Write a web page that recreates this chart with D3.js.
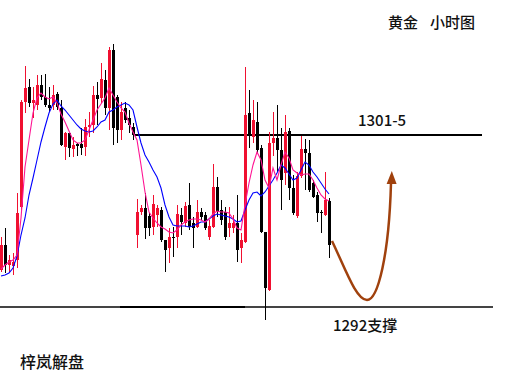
<!DOCTYPE html>
<meta charset="utf-8">
<style>
  body { margin: 0; background: #fff; }
  text { font-family: "Noto Sans CJK SC", "Noto Sans", sans-serif; fill: #111; font-weight: 500; }
</style>
<body>
<div id="chart"></div>
<script src="https://d3js.org/d3.v7.min.js"></script>
<script>
// gold, 1h bars (price values)
var open = [1294.25,1295.50,1294.50,1294.45,1294.75,1297.40,1302.65,1303.40,1302.60,1302.50,
  1303.50,1302.90,1302.50,1302.50,1303.05,1302.35,1300.40,1301.10,1300.30,1300.55,
  1300.55,1300.40,1301.40,1301.50,1303.00,1302.85,1303.75,1302.35,1305.25,1302.90,
  1301.25,1302.35,1301.85,1301.40,1296.00,1297.15,1297.35,1296.95,1296.40,1297.00,
  1297.25,1295.75,1295.35,1295.90,1295.90,1297.00,1296.60,1297.50,1296.60,1296.40,
  1297.15,1297.00,1295.90,1296.40,1298.40,1297.25,1297.15,1296.35,1296.35,1296.60,
  1295.35,1295.65,1302.10,1300.90,1301.65,1300.35,1296.15,1293.25,1300.60,1300.85,
  1300.25,1299.10,1301.20,1298.35,1296.95,1298.95,1300.30,1300.10,1298.60,1298.00,
  1297.15,1297.00,1297.70];
var high = [1295.90,1296.35,1295.00,1295.10,1298.10,1302.75,1304.45,1303.80,1303.40,1304.00,
  1304.00,1304.05,1303.40,1303.50,1303.15,1302.75,1301.15,1301.10,1300.90,1300.60,
  1301.35,1301.80,1302.15,1303.45,1303.65,1304.60,1304.25,1305.40,1305.55,1303.00,
  1302.65,1302.65,1302.25,1301.60,1297.80,1297.50,1298.10,1297.10,1298.00,1297.50,
  1297.40,1295.75,1296.35,1296.40,1297.50,1297.35,1297.65,1298.60,1296.90,1297.75,
  1297.35,1297.15,1296.75,1299.55,1298.90,1297.75,1297.40,1297.40,1297.00,1298.00,
  1296.10,1304.40,1303.25,1302.75,1302.65,1300.50,1296.15,1301.15,1302.15,1302.50,
  1301.35,1302.00,1301.35,1299.00,1299.15,1300.95,1300.80,1300.75,1298.75,1298.15,
  1297.25,1299.15,1297.85];
var low = [1294.15,1294.10,1294.15,1294.00,1294.35,1297.25,1302.10,1302.40,1301.85,1302.25,
  1302.75,1302.40,1302.15,1302.25,1302.25,1300.45,1299.75,1299.90,1299.90,1299.95,
  1300.00,1299.95,1300.90,1301.10,1301.50,1302.60,1302.00,1301.25,1300.50,1300.60,
  1300.75,1301.60,1301.10,1300.75,1295.35,1297.00,1295.80,1295.95,1296.00,1296.40,
  1295.65,1294.15,1294.60,1294.90,1295.35,1296.00,1296.40,1296.25,1295.35,1296.35,
  1296.75,1296.25,1295.75,1296.35,1296.90,1296.50,1295.75,1295.90,1296.10,1294.65,
  1294.60,1295.60,1300.35,1300.60,1300.10,1296.10,1291.75,1293.20,1299.95,1299.15,
  1297.25,1298.50,1297.75,1297.00,1296.85,1298.85,1298.25,1298.15,1297.85,1296.65,
  1296.10,1296.95,1294.85];
var close = [1295.50,1294.50,1294.75,1294.65,1297.10,1302.65,1303.35,1302.60,1302.75,1303.50,
  1302.90,1302.50,1302.35,1303.00,1302.40,1300.50,1301.10,1300.35,1300.50,1300.45,
  1300.35,1301.40,1301.50,1303.00,1302.80,1303.80,1302.35,1305.25,1301.35,1301.25,
  1302.15,1301.75,1301.50,1301.00,1297.15,1297.35,1296.35,1296.35,1297.55,1297.35,
  1295.75,1295.25,1295.90,1295.85,1297.05,1296.65,1297.45,1296.40,1296.35,1297.15,
  1296.90,1296.35,1296.45,1298.40,1297.15,1296.75,1295.90,1296.60,1296.60,1295.25,
  1295.75,1302.00,1301.00,1301.75,1300.25,1296.15,1293.35,1300.60,1300.85,1300.25,
  1298.75,1301.15,1298.35,1297.10,1298.95,1300.30,1300.10,1298.25,1297.90,1297.10,
  1297.10,1297.75,1295.50];

// moving averages as drawn
var maSlow = [1293.95,1294.00,1294.10,1294.35,1294.95,1296.00,1296.85,1298.00,1298.85,1299.75,
  1300.65,1301.40,1302.10,1302.55,1302.75,1302.45,1302.25,1302.00,1301.75,1301.50,
  1301.30,1301.20,1301.15,1301.20,1301.40,1301.65,1301.75,1302.15,1302.25,1302.40,
  1302.50,1302.60,1302.50,1302.25,1301.40,1300.60,1300.00,1299.65,1299.25,1298.90,
  1298.35,1297.50,1296.90,1296.50,1296.45,1296.45,1296.45,1296.40,1296.45,1296.55,
  1296.65,1296.65,1296.80,1296.95,1297.05,1297.00,1296.95,1296.90,1296.80,1296.65,
  1296.70,1297.25,1297.75,1298.10,1298.15,1297.95,1298.15,1298.45,1298.75,1299.10,
  1299.50,1299.35,1299.05,1298.75,1298.85,1299.25,1299.65,1299.50,1299.15,1298.90,
  1298.60,1298.30,1298.05];
var maFast = [1294.30,1294.50,1294.65,1294.75,1295.00,1296.85,1299.40,1300.75,1302.10,1302.85,
  1303.10,1302.90,1302.80,1302.90,1302.60,1302.05,1301.65,1301.20,1300.75,1300.60,
  1300.60,1300.75,1301.25,1301.75,1302.25,1302.55,1302.85,1303.35,1303.00,1302.65,
  1302.35,1302.15,1301.60,1301.15,1300.75,1299.50,1298.15,1297.15,1296.85,1296.60,
  1296.40,1296.30,1296.15,1296.10,1296.25,1296.50,1296.65,1296.75,1296.80,1296.80,
  1296.75,1296.65,1296.80,1297.05,1297.20,1297.15,1297.15,1297.10,1296.80,1296.35,
  1296.25,1297.50,1298.60,1299.50,1300.15,1299.75,1298.75,1298.35,1299.35,1298.75,
  1299.50,1300.15,1299.85,1299.25,1299.10,1299.00,1299.05,1299.05,1298.75,1298.35,
  1298.00,1297.80,1297.70];

var resistance = 1301, support = 1292.4;

var width = 510, height = 383;

var svg = d3.select("#chart").append("svg")
  .attr("width", width)
  .attr("height", height)
  .style("display", "block");

svg.append("rect").attr("width", width).attr("height", height).attr("fill", "#fff");

var x = d3.scaleLinear().domain([0, 82]).range([1, 329]);
var y = d3.scaleLinear().domain([support, resistance]).range([307, 135]);

var bars = open.map(function(o, i) {
  return { i: i, o: o, h: high[i], l: low[i], c: close[i] };
});

function col(d) { return d.c >= d.o ? "#f01030" : "#000"; }

var g = svg.append("g").attr("shape-rendering", "crispEdges");

// level lines
g.append("line")
  .attr("x1", x(-0.25)).attr("x2", x(123))
  .attr("y1", y(support)).attr("y2", y(support))
  .attr("stroke", "#444").attr("stroke-width", 2);
g.append("line")
  .attr("x1", x(29.75)).attr("x2", x(61))
  .attr("y1", y(support)).attr("y2", y(support))
  .attr("stroke", "#000").attr("stroke-width", 2);
g.append("line")
  .attr("x1", x(33.5)).attr("x2", x(120.25))
  .attr("y1", y(resistance)).attr("y2", y(resistance))
  .attr("stroke", "#000").attr("stroke-width", 2);

// wicks
g.selectAll(".wick")
  .data(bars)
  .enter().append("line")
  .attr("class", "wick")
  .attr("x1", function(d) { return Math.round(x(d.i)) + 0.5; })
  .attr("x2", function(d) { return Math.round(x(d.i)) + 0.5; })
  .attr("y1", function(d) { return Math.round(y(d.h)); })
  .attr("y2", function(d) { return Math.round(y(d.l)); })
  .attr("stroke", col)
  .attr("stroke-width", 1);

// bodies
g.selectAll(".body")
  .data(bars)
  .enter().append("rect")
  .attr("class", "body")
  .attr("x", function(d) { return Math.round(x(d.i)) - 1; })
  .attr("width", 3)
  .attr("y", function(d) { return Math.round(y(Math.max(d.o, d.c))); })
  .attr("height", function(d) {
    return Math.max(1, Math.round(y(Math.min(d.o, d.c))) - Math.round(y(Math.max(d.o, d.c))));
  })
  .attr("fill", col);

// moving averages
var line = d3.line()
  .x(function(d, i) { return x(i); })
  .y(function(d) { return y(d); });

svg.append("path").datum(maSlow)
  .attr("d", line)
  .attr("fill", "none")
  .attr("stroke", "#0000ff")
  .attr("stroke-width", 1.1);

svg.append("path").datum(maFast)
  .attr("d", line)
  .attr("fill", "none")
  .attr("stroke", "#ff1493")
  .attr("stroke-width", 1.1);

// hand drawn bounce arrow (index, price)
var p = d3.path();
p.moveTo(x(82.75), y(1295.70));
p.bezierCurveTo(x(86), y(1294.35), x(88.75), y(1292.75), x(91.5), y(1292.75));
p.bezierCurveTo(x(94.25), y(1292.75), x(97), y(1295.0), x(97.5), y(1298.6));
svg.append("path")
  .attr("d", p.toString())
  .attr("fill", "none")
  .attr("stroke", "#a0410d")
  .attr("stroke-width", 2.5);

var head = [[97.7, 1299.2], [96.4, 1298.55], [98.9, 1298.55]];
svg.append("polygon")
  .attr("points", head.map(function(d) { return x(d[0]) + "," + y(d[1]); }).join(" "))
  .attr("fill", "#a0410d");

// texts
var title = svg.append("text").attr("x", 388).attr("y", 28).style("font-size", "15px");
title.append("tspan").text("黄金");
title.append("tspan").attr("x", 430).text("小时图");

svg.append("text").attr("x", 358).attr("y", 126).style("font-size", "15px").text("1301-5");
svg.append("text").attr("x", 333).attr("y", 331).style("font-size", "15px").text("1292支撑");
svg.append("text").attr("x", 20).attr("y", 368).style("font-size", "16px").text("梓岚解盘");
</script>
</body>
